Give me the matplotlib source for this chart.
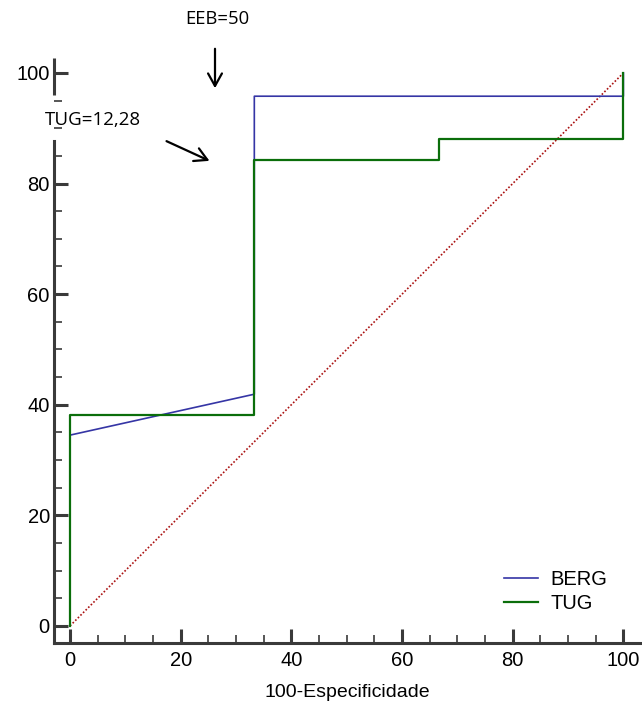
import matplotlib
matplotlib.use('Agg')
import matplotlib.pyplot as plt
from matplotlib.ticker import MultipleLocator
from matplotlib.lines import Line2D
from matplotlib.patches import FancyArrowPatch

# ROC curve points (100-Especificidade, Sensibilidade)
berg_x = [0, 0, 33.3, 33.3, 100, 100]
berg_y = [0, 34.5, 41.9, 95.8, 95.8, 100]
tug_x = [0, 0, 33.3, 33.3, 66.7, 66.7, 100, 100]
tug_y = [0, 38.1, 38.1, 84.2, 84.2, 88.0, 88.0, 100]
ref_x = [0, 100]
ref_y = [0, 100]

plt.rcParams['font.family'] = ['Liberation Sans', 'DejaVu Sans']

fig = plt.figure(figsize=(6.42, 7.04), dpi=100)
ax = fig.add_axes([54 / 642, 1 - 643 / 704, (640 - 54) / 642, (643 - 56.4) / 704])

ax.plot(ref_x, ref_y, color='#aa1111', linestyle=(0, (1, 1.2)), linewidth=1.2)
ax.plot(berg_x, berg_y, color='#3535a5', linewidth=1.2, label='BERG')
ax.plot(tug_x, tug_y, color='#0b6e0b', linewidth=1.6, label='TUG')

ax.set_xlim(-2.9, 103)
ax.set_ylim(-3.1, 103)

for s in ['top', 'right']:
    ax.spines[s].set_visible(False)
for s in ['left', 'bottom']:
    ax.spines[s].set_linewidth(2.2)
    ax.spines[s].set_color('#3a3a3a')
ax.spines['left'].set_bounds(-3.1, 87.7)
# upper piece of the broken y axis
ax.add_line(Line2D([-2.9, -2.9], [96.0, 102.7], color='#3a3a3a', linewidth=2.2,
                   clip_on=False, solid_capstyle='butt'))

ax.xaxis.set_major_locator(MultipleLocator(20))
ax.xaxis.set_minor_locator(MultipleLocator(5))
ax.yaxis.set_major_locator(MultipleLocator(20))
ax.yaxis.set_minor_locator(MultipleLocator(5))
ax.tick_params(which='major', direction='in', length=10, width=2.2, color='#3a3a3a',
               labelsize=14.5, pad=6)
ax.tick_params(which='minor', direction='in', length=5.5, width=1.2, color='#3a3a3a')
ax.tick_params(axis='y', pad=3)

ax.set_xlabel('100-Especificidade', fontsize=14, labelpad=10)

leg = ax.legend(loc='lower right', bbox_to_anchor=(0.975, 0.02), frameon=False,
                fontsize=14.5, handlelength=1.7, handletextpad=0.6, labelspacing=0.25)

ann_font = ['Open Sans', 'DejaVu Sans']
fig.text(217 / 642, 1 - 19 / 704, 'EEB=50', ha='center', va='center', fontsize=13.3,
         family=ann_font)
fig.text(93 / 642, 1 - 120 / 704, 'TUG=12,28', ha='center', va='center', fontsize=13.5,
         family=ann_font)
fig.patches.append(FancyArrowPatch(
    (215 / 642, 1 - 46 / 704), (215 / 642, 1 - 91 / 704), transform=fig.transFigure,
    arrowstyle='->,head_length=9,head_width=5', color='black', linewidth=1.6))
fig.patches.append(FancyArrowPatch(
    (164 / 642, 1 - 140 / 704), (212 / 642, 1 - 162 / 704), transform=fig.transFigure,
    arrowstyle='->,head_length=9,head_width=5', color='black', linewidth=1.6))

plt.savefig('out.png', dpi=100)
